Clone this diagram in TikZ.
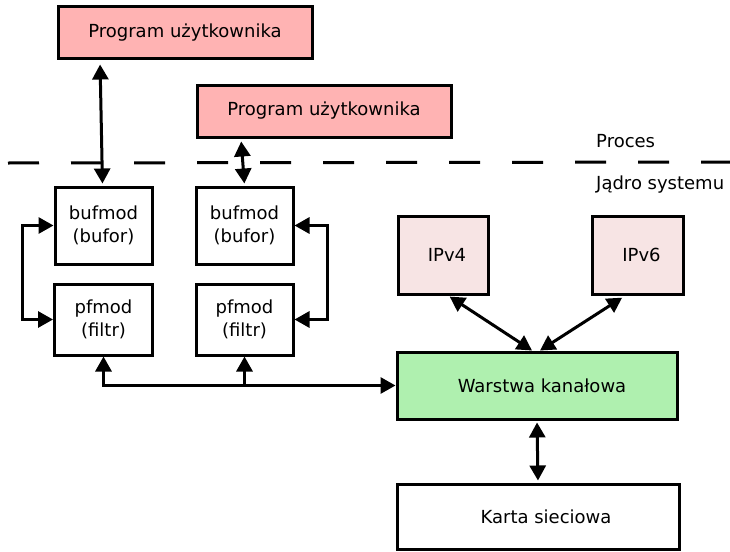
\documentclass[tikz,border=0pt]{standalone}
\usepackage{fontspec}
\setmainfont{DejaVu Sans}
\usetikzlibrary{positioning,arrows.meta}
\definecolor{progpink}{HTML}{FFB3B3}
\definecolor{ippink}{HTML}{F7E4E4}
\definecolor{linkgreen}{HTML}{AFF0AF}
\tikzset{
  box/.style={draw, line width=3pt, inner sep=0pt, align=center,
    font=\fontsize{18}{23}\selectfont},
  dbl/.style={line width=3pt, {Triangle[length=15pt,width=16pt]}-{Triangle[length=15pt,width=16pt]}},
  sgl/.style={line width=3pt, -{Triangle[length=15pt,width=16pt]}},
}

\begin{document}
\begin{tikzpicture}[x=1pt, y=-1pt, node distance=17pt]
        \useasboundingbox (0,0) rectangle (730,551);
        \node [box, fill=progpink, minimum width=254pt, minimum height=52pt] (progA) at (185,33) {Program użytkownika};
        \node [box, fill=progpink, minimum width=254pt, minimum height=52pt] (progB) at (324,111) {Program użytkownika};

        \coordinate (dashL) at (8,163);
        \coordinate (dashR) at (730,162);
        \draw [line width=3pt, dash pattern=on 31pt off 32pt] (dashL) -- (dashR);
        \node [font=\fontsize{18}{23}\selectfont, anchor=west, inner sep=0pt] (proc) at (596,141) {Proces};
        \node [font=\fontsize{18}{23}\selectfont, anchor=west, inner sep=0pt] (kern) at (596,185) {Jądro systemu};

        \node [box, minimum width=97pt, minimum height=77pt] (bufA) at (103.5,225.5) {bufmod\\(bufor)};
        \node [box, minimum width=98pt, minimum height=71pt, below=of bufA] (pfA) {pfmod\\(filtr)};
        \node [box, minimum width=97pt, minimum height=77pt] (bufB) at (244.5,225.5) {bufmod\\(bufor)};
        \node [box, minimum width=97pt, minimum height=71pt, below=of bufB] (pfB) {pfmod\\(filtr)};

        \node [box, fill=ippink, minimum width=90pt, minimum height=78pt] (ipv4) at (443,255) {\hspace{8pt}IPv4};
        \node [box, fill=ippink, minimum width=91pt, minimum height=78pt] (ipv6) at (637.5,255) {\hspace{8pt}IPv6};
        \node [box, fill=linkgreen, minimum width=280pt, minimum height=67pt] (link) at (537,385.5) {\hspace{10pt}Warstwa kanałowa};
        \node [box, minimum width=282pt, minimum height=65pt] (card) at (538,516.5) {\hspace{16pt}Karta sieciowa};

        \draw [dbl, shorten <=4pt, shorten >=2pt] ([xshift=-85pt]progA.south) -- ([xshift=-1pt]bufA.north);
        \draw [dbl, shorten <=3pt, shorten >=2pt] ([xshift=-83pt]progB.south) -- (bufB.north);
        \draw [dbl] (bufA.west) -- ++(-31pt,0) |- (pfA.west);
        \draw [dbl] (bufB.east) -- ++(33pt,0) |- (pfB.east);
        \draw [dbl] (pfA.south) |- (link.west);
        \coordinate (tap) at (pfB.south |- link.west);
        \draw [sgl] (tap) -- (pfB.south);
        \draw [dbl, shorten <=2pt] ([xshift=5pt]ipv4.south) -- ([xshift=-5pt]link.north);
        \draw [dbl, shorten <=4pt] ([xshift=-12pt]ipv6.south) -- ([xshift=3pt]link.north);
        \draw [dbl, shorten <=2pt, shorten >=2pt] (link.south) -- (card.north);
\end{tikzpicture}
\end{document}
